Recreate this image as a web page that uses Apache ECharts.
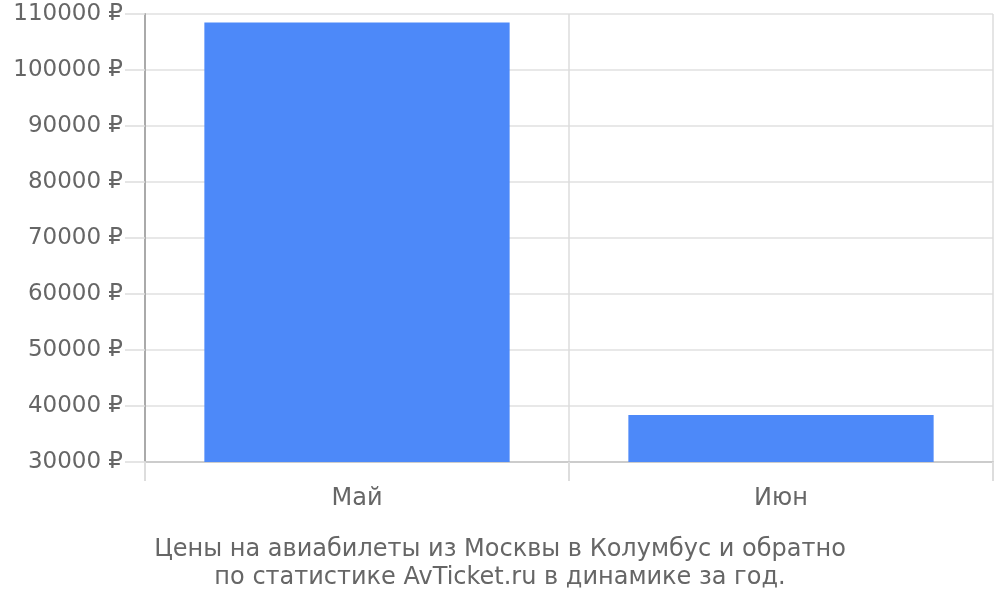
<!DOCTYPE html>
<html>
<head>
<meta charset="utf-8">
<script src="https://cdn.jsdelivr.net/npm/echarts@6/dist/echarts.min.js"></script>
<style>
  html, body { margin: 0; padding: 0; background: #fff; }
  #chart { width: 1000px; height: 600px; }
</style>
</head>
<body>
<div id="chart"></div>
<script>
var months = ['Май', 'Июн'];
var prices = [108500, 38400];
var yMin = 30000, yMax = 110000, yStep = 10000;
var titleLines = ['Цены на авиабилеты из Москвы в Колумбус и обратно', 'по статистике AvTicket.ru в динамике за год.'];

var chart = echarts.init(document.getElementById('chart'));
chart.setOption({
  animation: false,
  textStyle: { fontFamily: 'DejaVu Sans' },
  title: {
    text: titleLines.join('\n'),
    left: 'center',
    top: 531,
    textStyle: {
      color: '#666',
      fontSize: 24,
      fontWeight: 'normal',
      lineHeight: 28,
      fontFamily: 'DejaVu Sans'
    }
  },
  grid: {
    left: 145,
    right: 7,
    top: 14,
    bottom: 138,
    containLabel: false
  },
  xAxis: {
    type: 'category',
    data: months,
    axisLine: { lineStyle: { color: '#ccc', width: 2 } },
    axisTick: { show: true, length: 19, lineStyle: { color: '#ddd', width: 2 } },
    splitLine: { show: true, lineStyle: { color: '#ddd', width: 1.5 } },
    axisLabel: { color: '#666', fontSize: 24, margin: 25 }
  },
  yAxis: {
    type: 'value',
    min: yMin,
    max: yMax,
    interval: yStep,
    axisLine: { show: true, lineStyle: { color: '#aaa', width: 2 } },
    axisTick: { show: true, length: 20, lineStyle: { color: '#ddd', width: 1.5 } },
    splitLine: { show: true, lineStyle: { color: '#e0e0e0', width: 1.5 } },
    axisLabel: {
      color: '#666',
      fontSize: 23,
      margin: 22,
      formatter: function (v) { return v + ' ₽'; }
    }
  },
  series: [
    {
      type: 'bar',
      data: prices,
      barWidth: '72%',
      itemStyle: { color: '#4d89f9' }
    }
  ]
});
</script>
</body>
</html>
